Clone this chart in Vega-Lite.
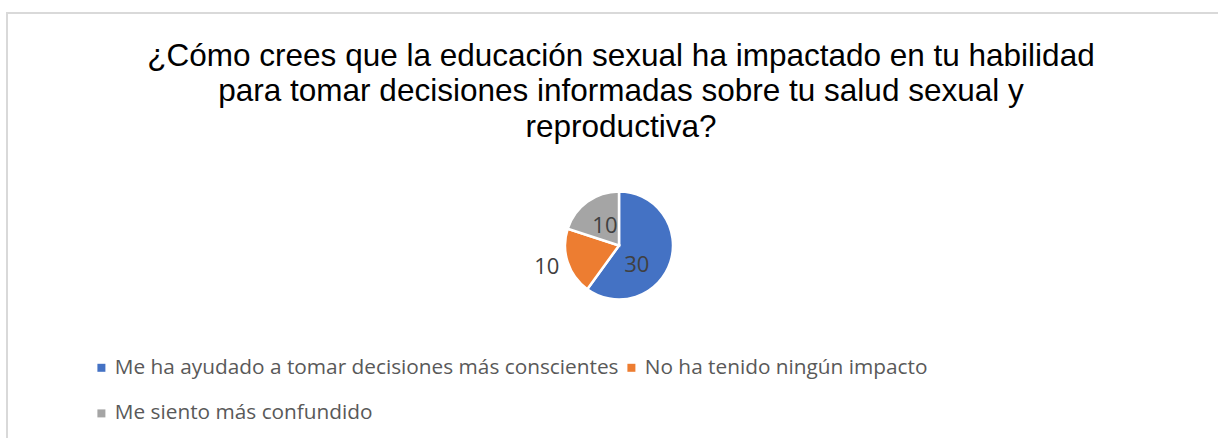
{
  "$schema": "https://vega.github.io/schema/vega-lite/v6.json",
  "width": 1224,
  "height": 465,
  "autosize": {"type": "none"},
  "padding": {"left": 7, "top": 13, "right": -13, "bottom": -40},
  "background": "white",
  "config": {
    "view": {"stroke": null},
    "legend": {"padding": 0}
  },
  "title": {
    "text": ["¿Cómo crees que la educación sexual ha impactado en tu habilidad", "para tomar decisiones informadas sobre tu salud sexual y", "reproductiva?"],
    "font": "Liberation Sans",
    "fontSize": 31.5,
    "fontWeight": "normal",
    "color": "#000000",
    "anchor": "middle",
    "frame": "group",
    "offset": -131,
    "lineHeight": 35.5,
    "dx": 2
  },
  "data": {
    "values": [
      {"respuesta": "Me ha ayudado a tomar decisiones más conscientes", "cantidad": 30, "orden": 1},
      {"respuesta": "No ha tenido ningún impacto", "cantidad": 10, "orden": 2},
      {"respuesta": "Me siento más confundido", "cantidad": 10, "orden": 3}
    ]
  },
  "layer": [
    {
      "transform": [{"aggregate": [{"op": "count", "as": "n"}]}],
      "mark": {"type": "rect", "fill": null, "stroke": "#d9d9d9", "strokeWidth": 2}
    },
    {
      "mark": {"type": "arc", "outerRadius": 54, "stroke": "white", "strokeWidth": 2.5},
      "encoding": {
        "theta": {"field": "cantidad", "type": "quantitative", "stack": true},
        "order": {"field": "orden", "type": "quantitative"},
        "color": {
          "field": "respuesta",
          "type": "nominal",
          "scale": {
            "domain": ["Me ha ayudado a tomar decisiones más conscientes", "No ha tenido ningún impacto", "Me siento más confundido"],
            "range": ["#4472C4", "#ED7D31", "#A5A5A5"]
          },
          "legend": {
            "title": null,
            "orient": "none",
            "legendX": 84,
            "legendY": 344,
            "direction": "horizontal",
            "columns": 2,
            "symbolType": "square",
            "symbolSize": 64,
            "symbolStrokeWidth": 0,
            "labelFont": "Open Sans",
            "labelFontSize": 20.8,
            "labelColor": "#595959",
            "labelOffset": 3,
            "labelLimit": 0,
            "rowPadding": 24,
            "columnPadding": 2
          }
        }
      }
    },
    {
      "mark": {"type": "text", "radius": 26, "dx": -7, "dy": 11, "font": "Open Sans", "fontSize": 22, "color": "#404040", "align": "center", "baseline": "middle"},
      "encoding": {
        "theta": {"field": "cantidad", "type": "quantitative", "stack": true},
        "order": {"field": "orden", "type": "quantitative"},
        "text": {"condition": {"test": "datum.orden == 1", "field": "cantidad", "type": "quantitative"}, "value": ""}
      }
    },
    {
      "mark": {"type": "text", "radius": 76, "dy": -2, "font": "Open Sans", "fontSize": 22, "color": "#404040", "align": "center", "baseline": "middle"},
      "encoding": {
        "theta": {"field": "cantidad", "type": "quantitative", "stack": true},
        "order": {"field": "orden", "type": "quantitative"},
        "text": {"condition": {"test": "datum.orden == 2", "field": "cantidad", "type": "quantitative"}, "value": ""}
      }
    },
    {
      "mark": {"type": "text", "radius": 24, "font": "Open Sans", "fontSize": 22, "color": "#404040", "align": "center", "baseline": "middle"},
      "encoding": {
        "theta": {"field": "cantidad", "type": "quantitative", "stack": true},
        "order": {"field": "orden", "type": "quantitative"},
        "text": {"condition": {"test": "datum.orden == 3", "field": "cantidad", "type": "quantitative"}, "value": ""}
      }
    }
  ]
}
